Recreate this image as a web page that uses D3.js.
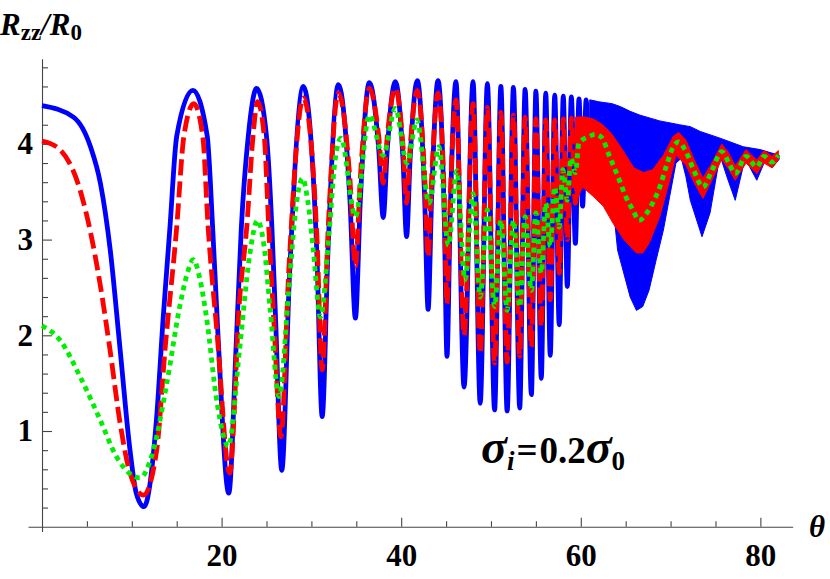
<!DOCTYPE html>
<html>
<head>
<meta charset="utf-8">
<script src="https://cdn.jsdelivr.net/npm/d3@7"></script>
<style>
  body { margin: 0; background: #fff; }
  text { font-family: "Liberation Serif", "Times New Roman", serif; font-weight: bold; fill: #000; }
</style>
</head>
<body>
<div class="canva"></div>
<script>
// values as [theta, Rzz/R0]
const blueSolid = [
  [0,4.40],[3.5,4.28],[5.4,3.97],[6.5,3.59],[7.6,2.89],[8.7,1.85],[9.8,0.80],[10.5,0.35],[11.36,0.21],
  [12.77,1.15],[13.5,2.19],[14.25,3.13],[15.0,4.08],[16.8,4.56],[18.4,4.08],[19.0,3.13],[19.6,2.0],
  [20.8,0.35],[21.6,1.85],[22.2,3.13],[22.97,4.08],[23.9,4.58],[25.0,4.08],[25.6,3.13],[26.0,2.2],
  [26.7,0.59],[27.55,2.6],[29.1,4.60],[30.6,2.88],[31.2,1.15],[31.85,2.89],[33.0,4.62],
  [34.3,3.4],[34.9,2.18],[35.45,3.41],[36.45,4.64],[37.5,3.94],[38.0,3.23],[38.45,3.94],[39.35,4.65],
  [40.2,3.84],[40.6,3.03],[41.0,3.85],[41.8,4.66],[42.6,3.47],[43.0,2.27],[43.4,3.47],[44.1,4.66],
  [44.8,3.22],[45.1,1.78],[45.45,3.22],[46.1,4.65],[47.0,1.46],[48.0,4.65],[48.8,1.29],[49.6,4.63],
  [50.4,1.22],[51.1,4.60],[51.8,1.21],[52.5,4.59],[53.2,1.24],[53.8,4.57],[54.5,1.38],[55.0,4.55],
  [55.6,1.55],[56.1,4.53],[56.6,1.79],[57.1,4.51],[57.6,2.11],[58.05,4.50],[58.5,2.51],[58.95,4.49],
  [59.4,2.96],[59.8,4.47],[60.2,3.35],[60.6,4.46],[61.0,3.62],[61.45,4.45]
];
// where the blue line oscillates too fast it prints as a filled band
const blueBandTop = [
  [61.0,4.46],[62.0,4.44],[63.5,4.42],[64.4,4.39],[65.5,4.34],[66.6,4.30],[68.8,4.24],[71.0,4.20],
  [72.2,4.18],[73.3,4.13],[75.5,4.06],[78.1,3.97],[80.0,3.94],[82.1,3.88]
];
const blueBandBottom = [
  [61.0,3.62],[61.9,3.62],[62.6,3.52],[63.2,3.41],[63.8,3.17],[64.1,2.89],[64.7,2.68],[65.5,2.40],
  [66.2,2.26],[66.9,2.30],[67.6,2.47],[68.4,2.79],[69.2,3.10],[69.9,3.45],[70.6,3.80],[71.2,3.85],
  [71.7,3.66],[72.2,3.41],[73.5,3.03],[74.4,3.28],[75.5,3.88],[76.3,3.65],[77.2,3.41],[78.3,3.85],
  [79.6,3.62],[80.5,3.82],[81.3,3.75],[82.1,3.84]
];

const redDashed = [
  [0,4.03],[2.0,3.94],[4.23,3.52],[5.35,3.10],[6.46,2.54],[7.57,1.85],[8.7,1.08],[9.8,0.56],[11.3,0.33],
  [12.77,0.80],[13.7,1.85],[15.0,3.13],[15.8,4.08],[16.9,4.42],[17.9,4.08],[18.5,3.13],[19.5,2.02],
  [20.9,0.56],[22.0,2.37],[22.8,3.13],[23.5,4.08],[24.0,4.44],[24.75,4.08],[25.25,3.13],[25.85,2.1],
  [26.6,0.94],[27.5,2.71],[29.1,4.48],[30.6,3.06],[31.2,1.64],[31.85,3.08],[33.0,4.53],
  [34.3,3.62],[34.9,2.72],[35.45,3.65],[36.45,4.58],[37.5,4.08],[38.0,3.59],[38.45,4.08],[39.35,4.58],
  [40.2,3.98],[40.6,3.38],[41.0,3.97],[41.8,4.56],[42.6,3.69],[43.0,2.82],[43.4,3.67],[44.1,4.53],
  [44.8,3.43],[45.1,2.33],[45.45,3.40],[46.1,4.46],[47.0,2.00],[48.0,4.42],[48.8,1.81],[49.6,4.38],
  [50.4,1.71],[51.1,4.33],[51.8,1.72],[52.5,4.30],[53.2,1.78],[53.8,4.28],[54.5,1.88],[55.0,4.26],
  [55.6,2.09],[56.1,4.25],[56.6,2.37],[57.1,4.25],[57.6,2.65],[58.05,4.26],[58.5,3.00],[58.95,4.27],
  [59.4,3.38],[59.8,4.28]
];
const redBandTop = [
  [59.4,4.28],[60.5,4.28],[61.4,4.26],[62.3,4.21],[63.4,4.11],[64.5,3.96],[65.9,3.75],[67.0,3.70],
  [68.0,3.73],[69.2,3.88],[70.3,4.08],[70.9,4.12],[71.7,4.04],[72.6,3.84],[73.6,3.64],[74.6,3.80],
  [75.7,4.00],[76.5,3.90],[77.2,3.77],[78.4,3.94],[79.6,3.83],[80.4,3.93],[81.3,3.87],[82.0,3.93]
];
const redBandBottom = [
  [59.4,3.38],[60.2,3.55],[61.4,3.45],[62.5,3.35],[63.6,3.17],[64.8,3.00],[66.2,2.86],[66.9,2.86],
  [67.6,2.96],[68.8,3.24],[69.9,3.62],[70.6,3.88],[71.7,3.78],[72.6,3.60],[73.6,3.43],[74.6,3.62],
  [75.7,3.84],[76.5,3.73],[77.2,3.62],[78.4,3.80],[79.6,3.69],[80.4,3.80],[81.3,3.75],[82.0,3.83]
];

const greenDotted = [
  [0,2.10],[2.0,1.95],[4.23,1.57],[6.46,1.12],[8.3,0.73],[10.9,0.51],[12.4,0.80],[13.9,1.50],[15.4,2.33],
  [16.1,2.62],[16.85,2.79],[17.6,2.58],[18.3,2.20],[19.5,1.29],[20.75,0.84],[22.0,1.85],[23.1,2.82],
  [24.0,3.20],[24.7,2.95],[25.4,2.28],[26.4,1.36],[27.5,2.5],[28.3,3.35],[29.0,3.64],[29.6,3.4],
  [30.2,2.9],[31.0,2.19],[32.0,3.1],[32.6,3.8],[33.3,4.06],
  [34.9,3.24],[36.45,4.30],[38.0,3.88],[39.35,4.37],[40.65,3.80],[41.75,4.25],[43.1,3.38],[44.2,3.97],
  [45.25,2.94],[46.2,3.72],[47.1,2.58],[48.0,3.48],[48.8,2.40],[49.6,3.31],[50.4,2.30],[51.1,3.20],
  [51.8,2.26],[52.5,3.20],[53.2,2.30],[53.8,3.24],[54.5,2.47],[55.0,3.28],[55.6,2.65],[56.1,3.38],
  [56.6,2.93],[57.1,3.55],[57.6,3.13],[58.0,3.73],[58.5,3.41],[58.9,3.85],[59.4,3.70],[59.8,4.01],
  [61.0,4.08],[61.6,4.10],[62.3,4.07],[63.2,3.87],[64.3,3.62],[65.0,3.45],[65.8,3.31],[66.5,3.20],
  [67.3,3.27],[68.0,3.38],[68.8,3.55],[69.5,3.76],[70.3,3.97],[70.9,4.02],[71.7,3.92],[72.6,3.72],
  [73.6,3.55],[74.6,3.72],[75.7,3.92],[76.5,3.80],[77.2,3.69],[78.4,3.87],[79.6,3.76],[80.4,3.87],
  [81.3,3.81],[82.0,3.88]
];

const thetaTicks = [20, 40, 60, 80];
const thetaMinor = [5, 10, 15, 25, 30, 35, 45, 50, 55, 65, 70, 75];
const rTicks = [1, 2, 3, 4];
const rMinor = d3.range(1, 25).map(i => i / 5).filter(v => !rTicks.includes(v));

const svg = d3.select(".canva").append("svg")
    .attr("width", 830)
    .attr("height", 579);

const x = d3.scaleLinear().domain([-1.56, 83.6]).range([28, 792.7]);
const y = d3.scaleLinear().domain([-0.05, 4.89]).range([531.5, 58.7]);

const line = d3.line()
    .x(d => x(d[0]))
    .y(d => y(d[1]))
    .curve(d3.curveMonotoneX);

// band = top edge forward, bottom edge back
const band = (top, bottom) => d3.line()
    .x(d => x(d[0]))
    .y(d => y(d[1]))(top.concat(bottom.slice().reverse())) + "Z";

// axes
const gx = svg.append("g").attr("transform", `translate(0,${y(0)})`);
gx.call(d3.axisBottom(x).tickValues(thetaTicks).tickSizeInner(-9).tickSizeOuter(0)
    .tickPadding(17).tickFormat(d3.format("d")));
gx.append("g").call(d3.axisBottom(x).tickValues(thetaMinor).tickSizeInner(-5.5).tickSizeOuter(0).tickFormat(""))
    .select(".domain").remove();

const gy = svg.append("g").attr("transform", `translate(${x(0)},0)`);
gy.call(d3.axisLeft(y).tickValues(rTicks).tickSizeInner(-10).tickSizeOuter(0)
    .tickPadding(9).tickFormat(d3.format("d")));
gy.append("g").call(d3.axisLeft(y).tickValues(rMinor).tickSizeInner(-6).tickSizeOuter(0).tickFormat(""))
    .select(".domain").remove();

svg.selectAll(".tick line, .domain").attr("stroke", "#444").attr("stroke-width", 1.1);
svg.selectAll(".tick text").attr("font-family", null).attr("font-size", null)
    .style("font-size", "31px");

// curves
svg.append("path").attr("d", band(blueBandTop, blueBandBottom))
    .attr("fill", "#0000ff").attr("stroke", "#0000ff").attr("stroke-width", 1);
svg.append("path").attr("d", line(blueSolid))
    .attr("fill", "none").attr("stroke", "#0000ff").attr("stroke-width", 4.8);

svg.append("path").attr("d", band(redBandTop, redBandBottom))
    .attr("fill", "#ff0000").attr("stroke", "#ff0000").attr("stroke-width", 1);
svg.append("path").attr("d", line(redDashed))
    .attr("fill", "none").attr("stroke", "#ff0000").attr("stroke-width", 4.8)
    .attr("stroke-dasharray", "16,6");

svg.append("path").attr("d", line(greenDotted))
    .attr("fill", "none").attr("stroke", "#00ee00").attr("stroke-width", 4.8)
    .attr("stroke-dasharray", "5,4.5");

// labels
const ylab = svg.append("text").attr("x", 0).attr("y", 35).style("font-size", "31px");
ylab.append("tspan").style("font-style", "italic").text("R");
ylab.append("tspan").attr("dy", 5).style("font-size", "23px").text("zz");
ylab.append("tspan").attr("dy", -5).style("font-style", "italic").text("/");
ylab.append("tspan").style("font-style", "italic").text("R");
ylab.append("tspan").attr("dy", 5).style("font-size", "23px").text("0");

svg.append("text").attr("x", 809).attr("y", 537)
    .style("font-size", "31px").style("font-style", "italic").text("θ");

const sig = svg.append("text").attr("x", 481).attr("y", 463).style("font-size", "37px");
sig.append("tspan").style("font-style", "italic").style("font-size", "48px").text("σ");
sig.append("tspan").attr("dy", 7).style("font-style", "italic").style("font-size", "27px").text("i");
sig.append("tspan").attr("dy", -7).attr("dx", 2).text("=");
sig.append("tspan").attr("dx", 2).text("0.2");
sig.append("tspan").style("font-style", "italic").style("font-size", "48px").text("σ");
sig.append("tspan").attr("dy", 7).style("font-size", "27px").text("0");
</script>
</body>
</html>
